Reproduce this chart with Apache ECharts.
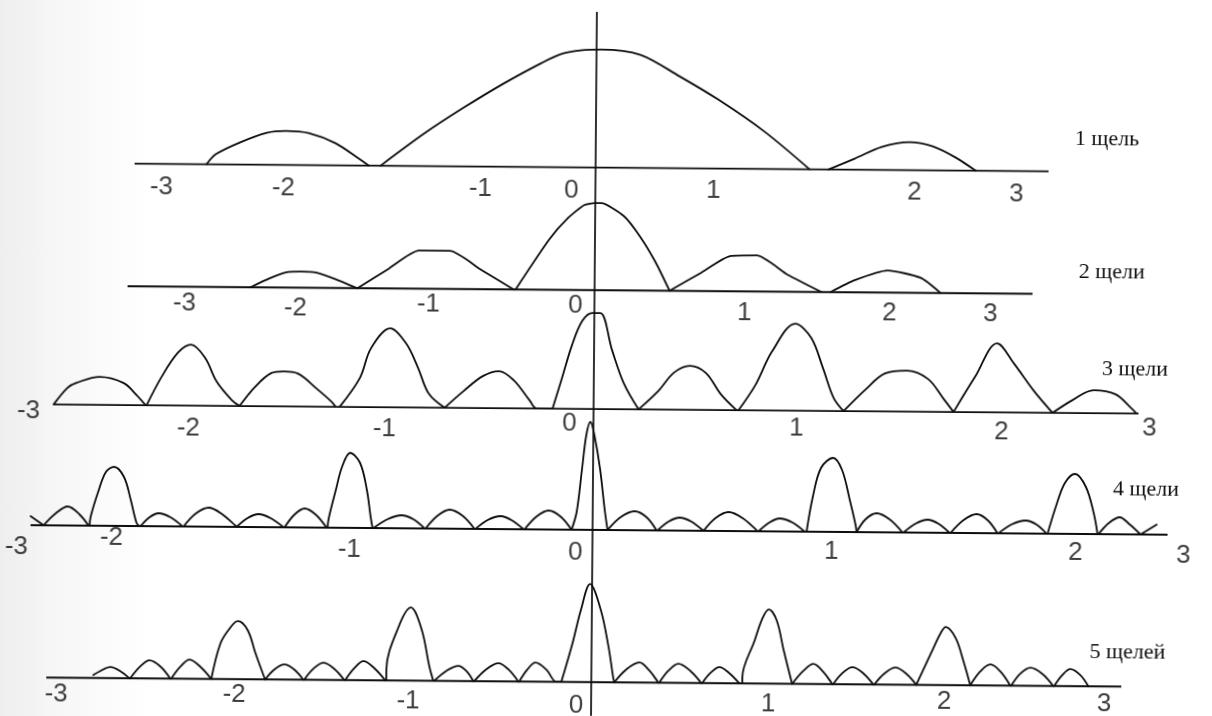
<!DOCTYPE html>
<html>
<head>
<meta charset="utf-8">
<script src="https://cdn.jsdelivr.net/npm/echarts@6/dist/echarts.min.js"></script>
<style>
  html, body { margin: 0; padding: 0; overflow: hidden;
    background: linear-gradient(90deg, #eeeeee 0px, #f7f7f7 60px, #ffffff 150px); }
  #chart { width: 1212px; height: 716px; transform: rotate(0.48deg); transform-origin: 50% 50%; }
</style>
</head>
<body>
<div id="chart"></div>
<script>
// Diffraction patterns for 1..5 slits. Horizontal unit: sin(phi) in arbitrary units,
// vertical: relative intensity. Each pattern is stored lobe by lobe as [x, I] pairs.

const panelNames = ['1 щель', '2 щели', '3 щели', '4 щели', '5 щелей'];
const tickText = ['-3', '-2', '-1', '0', '1', '2', '3'];

// 1 slit
const slit1Axis = [-4.61, 4.53];
const slit1Ticks = [-4.34, -3.12, -1.15, -0.24, 1.18, 3.19, 4.21];
const slit1Lobes = [
  [[-3.89, 0], [-3.80, 0.10], [-3.56, 0.22], [-3.29, 0.32], [-3.10, 0.34], [-2.87, 0.32], [-2.60, 0.22], [-2.37, 0.07], [-2.27, 0]],
  [[-2.15, 0], [-1.71, 0.33], [-1.32, 0.59], [-0.93, 0.83], [-0.55, 1.04], [-0.36, 1.13], [-0.16, 1.17], [0.05, 1.18], [0.44, 1.13], [0.83, 0.92], [1.22, 0.69], [1.69, 0.37], [2.14, 0]],
  [[2.33, 0], [2.59, 0.11], [2.86, 0.23], [3.14, 0.28], [3.37, 0.24], [3.60, 0.13], [3.80, 0]]
];

// 2 slits
const slit2Axis = [-4.67, 4.38];
const slit2Ticks = [-4.10, -2.99, -1.66, -0.19, 1.50, 2.95, 3.96];
const slit2Lobes = [
  [[-3.44, 0], [-3.25, 0.09], [-3.09, 0.15], [-2.94, 0.16], [-2.78, 0.15], [-2.60, 0.09], [-2.38, 0]],
  [[-2.37, 0], [-2.07, 0.19], [-1.76, 0.38], [-1.45, 0.38], [-1.13, 0.19], [-0.81, 0]],
  [[-0.79, 0], [-0.46, 0.50], [-0.27, 0.72], [-0.11, 0.85], [0.00, 0.87], [0.06, 0.87], [0.29, 0.74], [0.45, 0.54], [0.61, 0.28], [0.75, 0]],
  [[0.75, 0], [1.06, 0.18], [1.35, 0.35], [1.62, 0.36], [1.93, 0.17], [2.27, 0]],
  [[2.36, 0], [2.60, 0.12], [2.93, 0.22], [3.26, 0.15], [3.46, 0]]
];

// 3 slits
const slit3Axis = [-5.40, 5.45];
const slit3Ticks = [-5.65, -4.05, -2.09, -0.24, 2.03, 4.08, 5.56];
const slit3Lobes = [
  [[-5.40, 0], [-5.26, 0.17], [-5.17, 0.22], [-4.94, 0.28], [-4.70, 0.22], [-4.57, 0.10], [-4.48, 0]],
  [[-4.47, 0], [-4.32, 0.29], [-4.16, 0.53], [-4.03, 0.61], [-3.89, 0.48], [-3.77, 0.24], [-3.62, 0.06], [-3.54, 0]],
  [[-3.54, 0], [-3.39, 0.19], [-3.23, 0.33], [-3.10, 0.35], [-2.96, 0.33], [-2.77, 0.18], [-2.62, 0.05], [-2.58, 0]],
  [[-2.54, 0], [-2.34, 0.29], [-2.23, 0.59], [-2.04, 0.79], [-1.88, 0.64], [-1.76, 0.40], [-1.65, 0.14], [-1.49, 0]],
  [[-1.49, 0], [-1.30, 0.17], [-1.11, 0.32], [-0.95, 0.37], [-0.80, 0.28], [-0.64, 0.08], [-0.57, 0], [-0.41, 0]],
  [[-0.41, 0], [-0.32, 0.30], [-0.22, 0.64], [-0.12, 0.88], [-0.02, 0.96], [0.06, 0.96], [0.18, 0.59], [0.30, 0.26], [0.45, 0]],
  [[0.45, 0], [0.65, 0.19], [0.80, 0.37], [0.96, 0.44], [1.12, 0.37], [1.27, 0.16], [1.43, 0]],
  [[1.45, 0], [1.62, 0.26], [1.78, 0.59], [2.01, 0.87], [2.17, 0.73], [2.29, 0.43], [2.40, 0.13], [2.50, 0]],
  [[2.50, 0], [2.72, 0.22], [2.91, 0.38], [3.13, 0.41], [3.34, 0.33], [3.50, 0.13], [3.60, 0]],
  [[3.60, 0], [3.81, 0.35], [4.03, 0.69], [4.20, 0.49], [4.40, 0.22], [4.59, 0]],
  [[4.59, 0], [4.79, 0.13], [5.00, 0.23], [5.22, 0.19], [5.37, 0.06], [5.43, 0]]
];

// 4 slits
const slit4Axis = [-5.62, 5.75];
const slit4Ticks = [-5.76, -4.81, -2.43, -0.17, 2.39, 4.83, 5.91];
const slit4Lobes = [
  [[-5.62, 0.09], [-5.49, 0]],
  [[-5.49, 0], [-5.37, 0.12], [-5.25, 0.19], [-5.13, 0.11], [-5.04, 0]],
  [[-5.03, 0], [-5.02, 0.09], [-4.94, 0.36], [-4.87, 0.54], [-4.79, 0.59], [-4.69, 0.49], [-4.62, 0.26], [-4.56, 0.03], [-4.53, 0]],
  [[-4.52, 0], [-4.43, 0.09], [-4.34, 0.13], [-4.22, 0.09], [-4.10, 0]],
  [[-4.09, 0], [-3.97, 0.13], [-3.84, 0.19], [-3.71, 0.13], [-3.56, 0]],
  [[-3.56, 0], [-3.45, 0.09], [-3.34, 0.13], [-3.22, 0.09], [-3.09, 0]],
  [[-3.08, 0], [-2.98, 0.13], [-2.88, 0.19], [-2.77, 0.13], [-2.66, 0]],
  [[-2.65, 0], [-2.64, 0.09], [-2.57, 0.38], [-2.51, 0.61], [-2.43, 0.75], [-2.33, 0.65], [-2.26, 0.38], [-2.22, 0.11], [-2.20, 0]],
  [[-2.19, 0], [-2.05, 0.09], [-1.91, 0.13], [-1.79, 0.09], [-1.68, 0]],
  [[-1.67, 0], [-1.55, 0.13], [-1.43, 0.19], [-1.30, 0.13], [-1.18, 0]],
  [[-1.17, 0], [-1.05, 0.09], [-0.92, 0.13], [-0.81, 0.09], [-0.69, 0]],
  [[-0.68, 0], [-0.56, 0.13], [-0.44, 0.19], [-0.32, 0.13], [-0.21, 0]],
  [[-0.21, 0], [-0.16, 0.18], [-0.11, 0.61], [-0.07, 0.95], [-0.03, 1.08], [0.01, 0.95], [0.07, 0.61], [0.12, 0.20], [0.15, 0]],
  [[0.15, 0], [0.28, 0.13], [0.42, 0.19], [0.54, 0.13], [0.64, 0]],
  [[0.65, 0], [0.76, 0.09], [0.87, 0.13], [0.99, 0.09], [1.11, 0]],
  [[1.11, 0], [1.23, 0.13], [1.36, 0.19], [1.50, 0.13], [1.65, 0]],
  [[1.66, 0], [1.77, 0.09], [1.87, 0.13], [2.00, 0.09], [2.12, 0]],
  [[2.14, 0], [2.20, 0.35], [2.28, 0.64], [2.40, 0.74], [2.49, 0.62], [2.57, 0.32], [2.63, 0.07], [2.64, 0]],
  [[2.64, 0], [2.73, 0.13], [2.84, 0.19], [2.97, 0.13], [3.10, 0]],
  [[3.11, 0], [3.23, 0.09], [3.35, 0.13], [3.46, 0.09], [3.57, 0]],
  [[3.58, 0], [3.71, 0.13], [3.84, 0.19], [3.95, 0.13], [4.05, 0]],
  [[4.06, 0], [4.19, 0.09], [4.33, 0.13], [4.44, 0.09], [4.54, 0]],
  [[4.55, 0], [4.64, 0.30], [4.72, 0.51], [4.82, 0.60], [4.93, 0.47], [5.01, 0.21], [5.05, 0]],
  [[5.06, 0], [5.16, 0.11], [5.27, 0.17], [5.37, 0.10], [5.48, 0]],
  [[5.48, 0], [5.64, 0.10]]
];

// 5 slits
const slit5Axis = [-5.45, 5.30];
const slit5Ticks = [-5.35, -3.57, -1.83, -0.15, 1.77, 3.53, 5.13];
const slit5Lobes = [
  [[-4.98, 0.03], [-4.91, 0.07], [-4.81, 0.11], [-4.71, 0.07], [-4.62, 0]],
  [[-4.61, 0], [-4.51, 0.12], [-4.42, 0.18], [-4.31, 0.12], [-4.21, 0]],
  [[-4.20, 0], [-4.11, 0.12], [-4.02, 0.19], [-3.91, 0.12], [-3.80, 0]],
  [[-3.80, 0], [-3.71, 0.36], [-3.61, 0.52], [-3.54, 0.58], [-3.44, 0.49], [-3.36, 0.26], [-3.27, 0.02], [-3.26, 0]],
  [[-3.26, 0], [-3.17, 0.10], [-3.07, 0.15], [-2.97, 0.10], [-2.88, 0]],
  [[-2.87, 0], [-2.78, 0.11], [-2.68, 0.17], [-2.57, 0.11], [-2.47, 0]],
  [[-2.46, 0], [-2.37, 0.12], [-2.28, 0.19], [-2.17, 0.12], [-2.06, 0]],
  [[-2.05, 0], [-2.05, 0.11], [-1.93, 0.54], [-1.81, 0.73], [-1.70, 0.51], [-1.62, 0.14], [-1.58, 0]],
  [[-1.57, 0], [-1.45, 0.10], [-1.33, 0.15], [-1.25, 0.10], [-1.18, 0]],
  [[-1.17, 0], [-1.05, 0.12], [-0.93, 0.18], [-0.83, 0.12], [-0.73, 0]],
  [[-0.72, 0], [-0.64, 0.12], [-0.56, 0.19], [-0.45, 0.12], [-0.35, 0], [-0.30, 0]],
  [[-0.30, 0], [-0.19, 0.39], [-0.11, 0.72], [-0.02, 0.98], [0.09, 0.72], [0.17, 0.35], [0.22, 0.04], [0.23, 0]],
  [[0.23, 0], [0.35, 0.13], [0.48, 0.20], [0.58, 0.12], [0.67, 0]],
  [[0.68, 0], [0.77, 0.12], [0.87, 0.19], [0.99, 0.12], [1.10, 0]],
  [[1.11, 0], [1.19, 0.10], [1.28, 0.16], [1.38, 0.10], [1.48, 0]],
  [[1.51, 0], [1.51, 0.06], [1.63, 0.43], [1.71, 0.66], [1.77, 0.74], [1.85, 0.63], [1.92, 0.34], [2.00, 0.03], [2.01, 0]],
  [[2.01, 0], [2.12, 0.13], [2.22, 0.20], [2.32, 0.12], [2.41, 0]],
  [[2.42, 0], [2.51, 0.11], [2.61, 0.17], [2.72, 0.11], [2.82, 0]],
  [[2.83, 0], [2.93, 0.11], [3.04, 0.17], [3.15, 0.11], [3.25, 0]],
  [[3.25, 0], [3.41, 0.35], [3.49, 0.52], [3.54, 0.58], [3.64, 0.47], [3.72, 0.24], [3.79, 0]],
  [[3.79, 0], [3.89, 0.14], [3.99, 0.21], [4.09, 0.14], [4.19, 0]],
  [[4.20, 0], [4.29, 0.12], [4.39, 0.18], [4.51, 0.12], [4.62, 0]],
  [[4.63, 0], [4.71, 0.11], [4.79, 0.17], [4.89, 0.11], [4.97, 0]]
];

// Central vertical axis of symmetry
const centerAxis = [[0, 0], [0, 1]];

// ---- layout ----
const W = 1212, H = 716;
const X_MIN = -5.94, X_MAX = 6.18;        // 100 px per unit across the page
const PX_PER_UNIT = 100;
const baselineY = [167.6, 290.2, 409.1, 530.0, 682.2];
const labelDrop = [
  [23, 23, 22, 23, 22, 22, 23],
  [17, 21, 16, 16, 22, 21, 21],
  [7, 23, 22, 15, 18, 20, 15],
  [22, 12, 22, 23, 20, 19, 21],
  [17, 16, 21, 24, 21, 17, 18]
];
const titlePos = [[1073, 137], [1078, 270], [1102, 367], [1114, 487], [1092, 650]];
const smoothness = [0.3, 0.2, 0.35, 0.35, 0.35];

const INK = '#0d0d0d';
const TICK_FONT = '"Liberation Sans Narrow", "Liberation Sans", Arial, sans-serif';
const TITLE_FONT = '"Liberation Serif", "Times New Roman", serif';

const panels = [
  { axis: slit1Axis, ticks: slit1Ticks, lobes: slit1Lobes },
  { axis: slit2Axis, ticks: slit2Ticks, lobes: slit2Lobes },
  { axis: slit3Axis, ticks: slit3Ticks, lobes: slit3Lobes },
  { axis: slit4Axis, ticks: slit4Ticks, lobes: slit4Lobes },
  { axis: slit5Axis, ticks: slit5Ticks, lobes: slit5Lobes }
];

const grid = [], xAxis = [], yAxis = [], series = [], graphic = [];
const Y_SPAN = 1.3;

panels.forEach((p, i) => {
  const gh = Y_SPAN * PX_PER_UNIT;
  grid.push({ left: 0, width: W, top: baselineY[i] - gh, height: gh });
  xAxis.push({ type: 'value', gridIndex: i, min: X_MIN, max: X_MAX, show: false });
  yAxis.push({ type: 'value', gridIndex: i, min: 0, max: Y_SPAN, show: false });

  // horizontal axis line of the panel
  series.push({
    type: 'line', xAxisIndex: i, yAxisIndex: i, clip: false, symbol: 'none', silent: true,
    data: [[p.axis[0], 0], [p.axis[1], 0]],
    lineStyle: { color: INK, width: 1.9 }
  });

  // intensity curve, lobe by lobe (cusps at the minima)
  p.lobes.forEach(lobe => {
    series.push({
      type: 'line', xAxisIndex: i, yAxisIndex: i, clip: false, symbol: 'none', silent: true,
      smooth: smoothness[i],
      data: lobe,
      lineStyle: { color: INK, width: 1.8, join: 'round', cap: 'round' }
    });
  });

  // order labels under the axis
  series.push({
    type: 'scatter', xAxisIndex: i, yAxisIndex: i, clip: false, silent: true,
    symbolSize: 1, itemStyle: { color: 'rgba(0,0,0,0)' },
    data: p.ticks.map((v, k) => ({
      value: [v, 0],
      label: { offset: [0, labelDrop[i][k]] }
    })),
    label: {
      show: true, position: 'inside',
      formatter: (d) => tickText[d.dataIndex],
      color: INK, fontFamily: TICK_FONT, fontSize: 26
    }
  });

  graphic.push({
    type: 'text', left: titlePos[i][0], top: titlePos[i][1] - 13,
    style: { text: panelNames[i], fill: INK, font: '22px ' + TITLE_FONT }
  });
});

// full-height grid for the vertical symmetry axis
grid.push({ left: 0, width: W, top: 12, bottom: 0 });
xAxis.push({ type: 'value', gridIndex: 5, min: X_MIN, max: X_MAX, show: false });
yAxis.push({ type: 'value', gridIndex: 5, min: 0, max: 1, show: false });
series.push({
  type: 'line', xAxisIndex: 5, yAxisIndex: 5, clip: false, symbol: 'none', silent: true,
  data: centerAxis, lineStyle: { color: INK, width: 1.7 }
});

const chart = echarts.init(document.getElementById('chart'), null, { renderer: 'canvas' });
chart.setOption({
  animation: false,
  backgroundColor: 'transparent',
  grid, xAxis, yAxis, series, graphic
});
</script>
</body>
</html>
